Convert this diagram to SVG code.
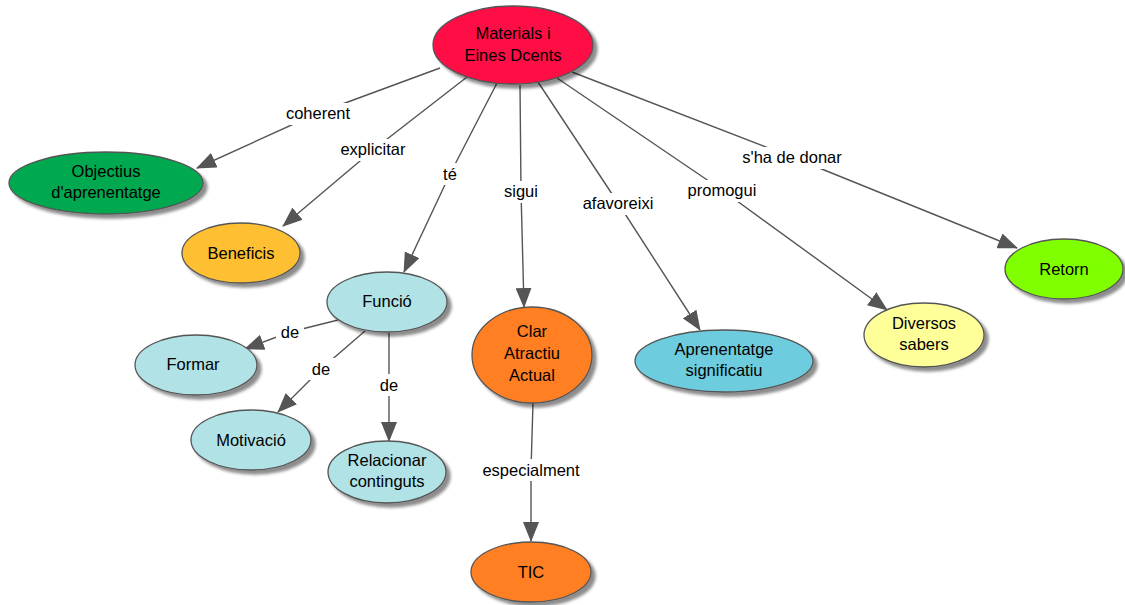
<svg xmlns="http://www.w3.org/2000/svg" width="1125" height="605" viewBox="0 0 1125 605">
  <style>
    .node ellipse { stroke: #555; stroke-width: 1.3; filter: url(#shadow); }
    .node text, .lbl text { font-family: "Liberation Sans", Arial, sans-serif; font-size: 16.5px; fill: #000; text-anchor: middle; }
    .edge { fill: none; stroke: #555; stroke-width: 1.4; }
    .arrow { marker-end: url(#head); }
    .lbl rect { fill: #fff; }
  </style>
  <defs>
    <filter id="shadow" x="-20%" y="-20%" width="150%" height="160%">
      <feGaussianBlur in="SourceAlpha" stdDeviation="1.6"/>
      <feOffset dx="4" dy="4" result="b"/>
      <feFlood flood-color="#000" flood-opacity="0.45"/>
      <feComposite in2="b" operator="in" result="s"/>
      <feMerge><feMergeNode in="s"/><feMergeNode in="SourceGraphic"/></feMerge>
    </filter>
    <marker id="head" markerUnits="userSpaceOnUse" markerWidth="20" markerHeight="16" viewBox="0 0 20 16" refX="19" refY="8" orient="auto">
      <path d="M0,0 L20,8 L0,16 Z" fill="#555"/>
    </marker>
  </defs>

  <rect width="1125" height="605" fill="#fff"/>

  <!-- connectors: concept → linking phrase → concept -->
  <g id="connectors">
    <polyline class="edge arrow" points="440,68 318,113 197,168"/>
    <polyline class="edge arrow" points="467,77 373,150 283,226"/>
    <polyline class="edge arrow" points="497,83 450,174 404,272"/>
    <polyline class="edge arrow" points="520,85 521,191 524,307"/>
    <polyline class="edge arrow" points="538,82 618,203 700,330"/>
    <polyline class="edge arrow" points="557,78 722,190 887,310"/>
    <polyline class="edge arrow" points="572,72 792,157 1017,248"/>
    <polyline class="edge arrow" points="338,320 290,332 245,349"/>
    <polyline class="edge arrow" points="365,331 321,369 278,412"/>
    <polyline class="edge arrow" points="389,333 389,385 389,441"/>
    <polyline class="edge arrow" points="533,403 531,470 531,541"/>

    <g class="lbl">
      <rect x="280" y="103" width="76" height="22"/><text x="318" y="119">coherent</text>
      <rect x="335" y="139" width="76" height="22"/><text x="373" y="155">explicitar</text>
      <rect x="439" y="163" width="22" height="22"/><text x="450" y="180">té</text>
      <rect x="500" y="181" width="42" height="22"/><text x="521" y="197">sigui</text>
      <rect x="578" y="193" width="80" height="22"/><text x="618" y="209">afavoreixi</text>
      <rect x="683" y="180" width="78" height="22"/><text x="722" y="196">promogui</text>
      <rect x="736" y="147" width="112" height="22"/><text x="792" y="163">s'ha de donar</text>
      <rect x="276" y="321" width="28" height="22"/><text x="290" y="338">de</text>
      <rect x="307" y="358" width="28" height="22"/><text x="321" y="375">de</text>
      <rect x="375" y="374" width="28" height="22"/><text x="389" y="391">de</text>
      <rect x="475" y="459" width="112" height="22"/><text x="531" y="476">especialment</text>
    </g>
  </g>

  <g id="n-main" class="node">
    <ellipse cx="513" cy="45" rx="80" ry="39" fill="#FF0844"/>
    <text x="513" y="39">Materials i</text>
    <text x="513" y="61">Eines Dcents</text>
  </g>
  <g id="n-objectius" class="node">
    <ellipse cx="106" cy="183" rx="97" ry="31" fill="#00A84F"/>
    <text x="106" y="177">Objectius</text>
    <text x="106" y="198">d'aprenentatge</text>
  </g>
  <g id="n-beneficis" class="node">
    <ellipse cx="241" cy="253" rx="59" ry="30" fill="#FFBF33"/>
    <text x="241" y="259">Beneficis</text>
  </g>
  <g id="n-funcio" class="node">
    <ellipse cx="387" cy="302" rx="60" ry="30" fill="#B0E2E6"/>
    <text x="387" y="307">Funció</text>
  </g>
  <g id="n-formar" class="node">
    <ellipse cx="196" cy="365" rx="61" ry="30" fill="#B0E2E6"/>
    <text x="193" y="370">Formar</text>
  </g>
  <g id="n-motivacio" class="node">
    <ellipse cx="251" cy="440" rx="60" ry="30" fill="#B0E2E6"/>
    <text x="251" y="446">Motivació</text>
  </g>
  <g id="n-relacionar" class="node">
    <ellipse cx="387" cy="472" rx="59" ry="31" fill="#B0E2E6"/>
    <text x="387" y="466">Relacionar</text>
    <text x="387" y="487">continguts</text>
  </g>
  <g id="n-clar" class="node">
    <ellipse cx="532" cy="355" rx="60" ry="48" fill="#FF7F22"/>
    <text x="532" y="337">Clar</text>
    <text x="532" y="359">Atractiu</text>
    <text x="532" y="381">Actual</text>
  </g>
  <g id="n-tic" class="node">
    <ellipse cx="531" cy="572" rx="60" ry="30" fill="#FF7F22"/>
    <text x="531" y="578">TIC</text>
  </g>
  <g id="n-aprenentatge" class="node">
    <ellipse cx="724" cy="361" rx="89" ry="31" fill="#6DCCDD"/>
    <text x="724" y="355">Aprenentatge</text>
    <text x="724" y="376">significatiu</text>
  </g>
  <g id="n-diversos" class="node">
    <ellipse cx="924" cy="335" rx="60" ry="32" fill="#FFFF99"/>
    <text x="924" y="329">Diversos</text>
    <text x="924" y="350">sabers</text>
  </g>
  <g id="n-retorn" class="node">
    <ellipse cx="1064" cy="269" rx="59" ry="30" fill="#80FF00"/>
    <text x="1064" y="275">Retorn</text>
  </g>
</svg>
